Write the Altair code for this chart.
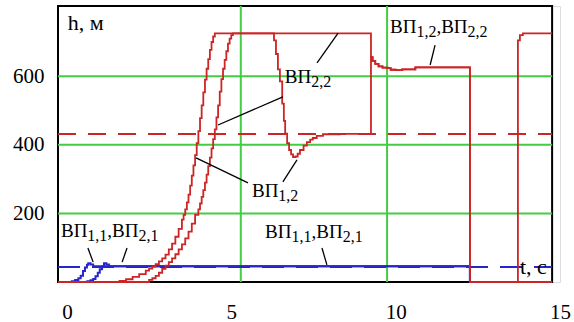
import altair as alt
import pandas as pd

# ---- axis ranges: time t (s) and height h (m) ----
T_LO, T_HI = -0.27, 14.76      # framed plot area
T_LABEL_END = 15.0             # last tick label sits just past the frame
H_LO, H_HI = 0, 805
X_TICKS = [0, 5, 10, 15]
Y_TICKS = [200, 400, 600]
GRID_T = [5.29, 9.74]
GRID_H = [200, 400, 600]

# set-point levels (dashed)
SET_RED_H = 432
SET_BLUE_H = 44

# ВП1,1 and ВП2,1 responses
blue1_t = [T_LO, 0.0, 0.15, 0.25, 0.35, 0.42, 0.49, 0.55, 0.61, 0.65, 0.72, 0.8, 12.26, 12.26, T_HI]
blue1_h = [0, 0, 2, 6, 11, 18, 32, 42, 50, 55, 51, 46, 46, 0, 0]
blue2_t = [T_LO, 0.5, 0.62, 0.72, 0.8, 0.87, 0.94, 1.0, 1.07, 1.13, 1.2, 1.28, 12.26, 12.26, T_HI]
blue2_h = [0, 0, 2, 5, 9, 17, 27, 37, 45, 55, 51, 46, 46, 0, 0]

# common tail of ВП1,2 and ВП2,2 after t = 9.25 s
tail_t = [9.25, 9.3, 9.38, 9.48, 9.6, 9.75, 9.85, 10.0, 10.2, 10.55, 10.6, 12.26, 12.26]
tail_h = [656, 645, 636, 629, 625, 624, 619, 618, 620, 620, 626, 626, 0]

# ВП1,2
red1_t = ([T_LO, 1.4, 1.6, 1.8, 2.0, 2.2, 2.4, 2.5, 2.6, 2.7, 2.8, 2.9,
           3.0, 3.1, 3.2, 3.3, 3.4, 3.5, 3.55, 3.6, 3.65, 3.7, 3.75, 3.8, 3.85, 3.9, 3.95,
           4.0, 4.05, 4.1, 4.15, 4.2, 4.25, 4.3, 4.35, 4.4, 4.45, 4.5,
           6.24, 6.3, 6.36, 6.42, 6.48, 6.55, 6.6, 6.64, 6.7, 6.76, 6.82, 6.88, 6.95,
           7.02, 7.09, 7.2, 7.3, 7.4, 7.48, 7.6, 7.79, 8.3, 9.25]
          + tail_t + [13.72, 13.72, 13.78, 13.87, T_HI])
red1_h = ([0, 0, 3, 8, 15, 23, 33, 39, 45, 52, 60, 69,
           80, 95, 112, 132, 155, 182, 196, 212, 232, 255, 281, 310, 340, 370, 405,
           440, 478, 515, 553, 590, 622, 650, 677, 700, 716, 725,
           725, 705, 665, 620, 585, 520, 470, 433, 405, 385, 372, 364, 366,
           374, 385, 398, 408, 415, 420, 426, 431, 432, 432]
          + tail_h + [0, 705, 720, 725, 725])

# ВП2,2
red2_t = ([T_LO, 2.3, 2.5, 2.6, 2.7, 2.8, 2.9,
           3.0, 3.1, 3.2, 3.3, 3.4, 3.5, 3.6, 3.7, 3.8, 3.9,
           4.0, 4.05, 4.1, 4.15, 4.2, 4.25, 4.3, 4.35, 4.4, 4.45, 4.5,
           4.55, 4.6, 4.65, 4.7, 4.75, 4.8, 4.85, 4.9, 4.95, 5.0, 5.05, 9.25]
          + tail_t + [T_HI])
red2_h = ([0, 0, 6, 11, 18, 27, 38,
           48, 58, 69, 81, 95, 110, 127, 147, 170, 196,
           212, 229, 248, 268, 290, 313, 338, 363, 390, 417, 445,
           480, 515, 555, 592, 622, 648, 673, 695, 710, 720, 725, 725]
          + tail_h + [0])

# leader lines from the labels to the curves
ptr_t0 = [0.64, 1.83, 7.76, 8.25, 6.57, 5.51, 6.57, 11.20]
ptr_h0 = [99, 99, 99, 726, 540, 289, 292, 691]
ptr_t1 = [0.80, 1.68, 7.91, 7.61, 4.60, 3.93, 7.00, 11.05]
ptr_h1 = [58, 58, 50, 639, 458, 362, 356, 633]

# curve labels: anchor (t, h of baseline) and pieces (text, is_subscript)
label_t = [-0.18, 6.03, 6.63, 5.63, 9.83]
label_h = [131, 128, 580, 248, 726]
label_parts = [
    [("ВП", False), ("1,1", True), (",", False), ("ВП", False), ("2,1", True)],
    [("ВП", False), ("1,1", True), (",", False), ("ВП", False), ("2,1", True)],
    [("ВП", False), ("2,2", True)],
    [("ВП", False), ("1,2", True)],
    [("ВП", False), ("1,2", True), (",", False), ("ВП", False), ("2,2", True)],
]

# ---- styling ----
FONT = "Liberation Serif"
RED = "#cc2525"
BLUE = "#2626cc"
GREEN = "#44cc44"
PLOT_W, PLOT_H = 502, 276
MAIN_SIZE, SUB_SIZE, SUB_DROP = 19, 16, 4
TICK_SIZE = 21

px_per_t = PLOT_W / (T_LABEL_END - T_LO)
px_per_h = PLOT_H / (H_HI - H_LO)
EM = {"В": 0.667, "П": 0.722, ",": 0.25}


def label_rows(t0, h0, parts):
    rows, cursor = [], 0.0
    for text, sub in parts:
        size = SUB_SIZE if sub else MAIN_SIZE
        rows.append({"t": t0 + cursor / px_per_t,
                     "h": h0 - (SUB_DROP / px_per_h if sub else 0),
                     "text": text, "sub": sub})
        cursor += sum(EM.get(c, 0.5) for c in text) * size
    return rows


def series(name, ts, hs):
    return pd.DataFrame({"s": name, "i": range(len(ts)), "t": ts, "h": hs})


xs = alt.Scale(domain=[T_LO, T_LABEL_END], nice=False, zero=False)
ys = alt.Scale(domain=[H_LO, H_HI], nice=False, zero=False)

x_axis = alt.Axis(values=X_TICKS, grid=False, domain=False, ticks=False, tickSize=0,
                  labelFont=FONT, labelFontSize=TICK_SIZE, labelColor="black", labelPadding=19,
                  labelFlush=False, labelOverlap=False, title=None)
y_axis = alt.Axis(values=Y_TICKS, grid=False, domain=False, ticks=False, tickSize=0,
                  labelFont=FONT, labelFontSize=TICK_SIZE, labelColor="black", labelPadding=14,
                  labelFlush=False, labelOverlap=False, title=None)


def X(field):
    return alt.X(field, type="quantitative", scale=xs, axis=x_axis)


def Y(field):
    return alt.Y(field, type="quantitative", scale=ys, axis=y_axis)


frame_df = pd.DataFrame({"t0": [T_LO], "t1": [T_HI], "h0": [H_LO], "h1": [H_HI]})
frame = alt.Chart(frame_df).mark_rect(fill="white", stroke="black", strokeWidth=2).encode(
    x=X("t0"), x2="t1", y=Y("h0"), y2="h1")

hgrid = alt.Chart(pd.DataFrame({"h": GRID_H, "t0": T_LO, "t1": T_HI})).mark_rule(
    color=GREEN, strokeWidth=2).encode(x=X("t0"), x2="t1", y=Y("h"))

vgrid = alt.Chart(pd.DataFrame({"t": GRID_T, "h0": H_LO, "h1": H_HI})).mark_rule(
    color=GREEN, strokeWidth=2).encode(x=X("t"), y=Y("h0"), y2="h1")


def setpoint(level, color, dash):
    return alt.Chart(pd.DataFrame({"h": [level], "t0": [T_LO], "t1": [T_HI]})).mark_rule(
        color=color, strokeWidth=2, strokeDash=dash).encode(x=X("t0"), x2="t1", y=Y("h"))


red_set = setpoint(SET_RED_H, RED, [18, 12])
blue_set = setpoint(SET_BLUE_H, BLUE, [22, 12])


def curves(frames, color, width):
    df = pd.concat(frames, ignore_index=True)
    return alt.Chart(df).mark_line(color=color, strokeWidth=width, interpolate="step-after").encode(
        x=X("t"), y=Y("h"), detail="s:N", order="i:Q")


blue_lines = curves([series("ВП1,1", blue1_t, blue1_h), series("ВП2,1", blue2_t, blue2_h)], BLUE, 2)
red_lines = curves([series("ВП1,2", red1_t, red1_h), series("ВП2,2", red2_t, red2_h)], RED, 1.8)

ptr_df = pd.DataFrame({"t0": ptr_t0, "h0": ptr_h0, "t1": ptr_t1, "h1": ptr_h1})
pointers = alt.Chart(ptr_df).mark_rule(color="black", strokeWidth=1.3).encode(
    x=X("t0"), x2="t1", y=Y("h0"), y2="h1")

rows = []
for t0, h0, parts in zip(label_t, label_h, label_parts):
    rows += label_rows(t0, h0, parts)
lab_df = pd.DataFrame(rows)


def text_layer(df, size):
    return alt.Chart(df).mark_text(align="left", baseline="alphabetic", font=FONT,
                                   fontSize=size, color="black").encode(
        x=X("t"), y=Y("h"), text="text:N")


main_text = text_layer(lab_df[~lab_df["sub"]], MAIN_SIZE)
sub_text = text_layer(lab_df[lab_df["sub"]], SUB_SIZE)

axis_names = pd.DataFrame({"t": [0.03, 13.78], "h": [735, 23], "text": ["h, м", "t, с"]})
axis_text = text_layer(axis_names, 22)

chart = alt.layer(
    frame, hgrid, vgrid, red_set, blue_set, blue_lines, red_lines,
    pointers, main_text, sub_text, axis_text,
).properties(
    width=PLOT_W, height=PLOT_H,
    autosize=alt.AutoSizeParams(type="none"),
    padding={"left": 58, "top": 6, "right": 14, "bottom": 40},
).configure_view(stroke=None).configure(background="white")

chart.save("out.html", embed_options={"renderer": "svg", "actions": False})
